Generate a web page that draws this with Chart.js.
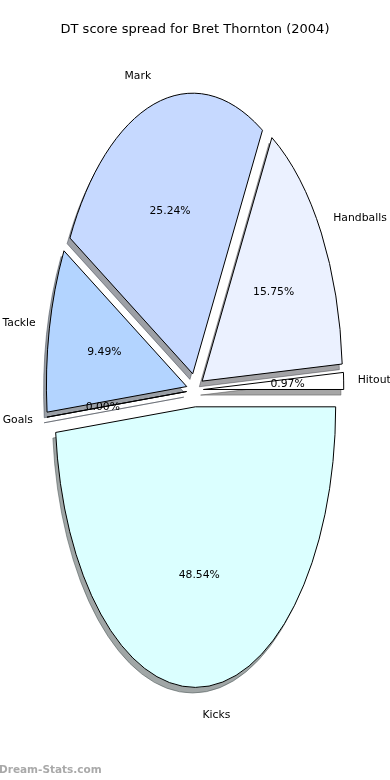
<!DOCTYPE html>
<html>
<head>
<meta charset="utf-8">
<script src="https://cdn.jsdelivr.net/npm/chart.js@4.4.1/dist/chart.umd.min.js"></script>
<style>
  html, body { margin: 0; padding: 0; background: #fff; }
  #wrap { position: relative; width: 390px; height: 780px; }
  #brand { position: absolute; left: -1px; top: 763px; font: bold 10.5px 'DejaVu Sans', sans-serif; color: #a9a9a9; }
</style>
</head>
<body>
<div id="wrap">
  <canvas id="pie" width="390" height="780"></canvas>
  <div id="brand">Dream-Stats.com</div>
</div>
<script>
// slices in the order they run counter-clockwise from 3 o'clock
const categories = ['Hitout', 'Handballs', 'Mark', 'Tackle', 'Goals', 'Kicks'];
const shares     = [0.97, 15.75, 25.24, 9.49, 0.00, 48.54];
const colours    = ['#ffffff', '#ebf1ff', '#c6d9ff', '#b3d4ff', '#cce0ff', '#dbffff'];

const EXPLODE = 0.06;   // fraction of radius
const SHADOW  = 0.02;
const STRETCH = 2.0;    // vertical squash of the pie
const RADIUS  = 140.3;

// chart.js goes clockwise, so flip the order
const chartLabels  = categories.slice().reverse();
const chartValues  = shares.slice().reverse();
const chartColours = colours.slice().reverse();

const shadowOf = (hex) => {
  const n = parseInt(hex.slice(1), 16);
  const r = (n >> 16) & 255, g = (n >> 8) & 255, b = n & 255;
  return `rgba(${Math.round(r * 0.3)},${Math.round(g * 0.3)},${Math.round(b * 0.3)},0.5)`;
};

const stretchPie = {
  id: 'stretchPie',
  beforeDatasetDraw(chart, args) {
    const ctx  = chart.ctx;
    const arcs = args.meta.data;
    const cx = arcs[0].x, cy = arcs[0].y;
    const squash = () => { ctx.translate(cx, cy); ctx.scale(1, STRETCH); ctx.translate(-cx, -cy); };

    // path is built in stretched space, stroked in screen space (keeps lines 1px)
    const wedge = (el, dx, dy) => {
      ctx.save();
      squash();
      ctx.translate(dx, dy);
      ctx.beginPath();
      ctx.moveTo(el.x, el.y);
      if (el.circumference > 0) ctx.arc(el.x, el.y, el.outerRadius, el.startAngle, el.endAngle);
      else ctx.lineTo(el.x + Math.cos(el.startAngle) * el.outerRadius, el.y + Math.sin(el.startAngle) * el.outerRadius);
      ctx.closePath();
      ctx.restore();
    };
    const push = (el) => {
      const mid = (el.startAngle + el.endAngle) / 2;
      return [Math.cos(mid) * EXPLODE * el.outerRadius, Math.sin(mid) * EXPLODE * el.outerRadius];
    };

    ctx.save();
    ctx.lineWidth = 1;
    ctx.lineJoin = 'round';

    // shadows under everything
    arcs.forEach((el, i) => {
      const [dx, dy] = push(el);
      const s = SHADOW * el.outerRadius;
      wedge(el, dx - s, dy + s);
      ctx.fillStyle = ctx.strokeStyle = shadowOf(chartColours[i]);
      ctx.fill();
      ctx.stroke();
    });

    // slices
    arcs.forEach((el) => {
      const [dx, dy] = push(el);
      ctx.save();
      squash();
      ctx.translate(dx, dy);
      el.draw(ctx);
      ctx.restore();
      wedge(el, dx, dy);
      ctx.strokeStyle = '#000';
      ctx.stroke();
    });
    ctx.restore();
    return false;
  },
  afterDatasetsDraw(chart) {
    const ctx  = chart.ctx;
    const arcs = chart.getDatasetMeta(0).data;
    const total = chartValues.reduce((a, b) => a + b, 0);
    ctx.save();
    ctx.fillStyle = '#000';
    ctx.font = "10.8px 'DejaVu Sans', sans-serif";
    ctx.textBaseline = 'middle';
    arcs.forEach((el, i) => {
      const r   = el.outerRadius;
      const mid = (el.startAngle + el.endAngle) / 2;
      const ux = Math.cos(mid), uy = Math.sin(mid) * STRETCH;
      const ex = el.x + ux * EXPLODE * r, ey = el.y + uy * EXPLODE * r;
      ctx.textAlign = ux > 0 ? 'left' : 'right';
      ctx.fillText(chartLabels[i], ex + ux * 1.1 * r, ey + uy * 1.1 * r);
      ctx.textAlign = 'center';
      ctx.fillText((chartValues[i] / total * 100).toFixed(2) + '%', ex + ux * 0.6 * r, ey + uy * 0.6 * r);
    });
    ctx.restore();
  }
};

new Chart(document.getElementById('pie'), {
  type: 'pie',
  data: {
    labels: chartLabels,
    datasets: [{
      data: chartValues,
      backgroundColor: chartColours,
      borderWidth: 0
    }]
  },
  options: {
    responsive: false,
    animation: false,
    events: [],
    rotation: 90,
    radius: RADIUS,
    layout: { padding: { top: 0, bottom: 47.4, left: 0, right: 0 } },
    plugins: {
      legend: { display: false },
      tooltip: { enabled: false },
      title: {
        display: true,
        text: 'DT score spread for Bret Thornton (2004)',
        color: '#000',
        font: { family: 'DejaVu Sans', size: 13, weight: 'normal' },
        padding: { top: 22, bottom: 9.8 }
      }
    }
  },
  plugins: [stretchPie]
});
</script>
</body>
</html>
